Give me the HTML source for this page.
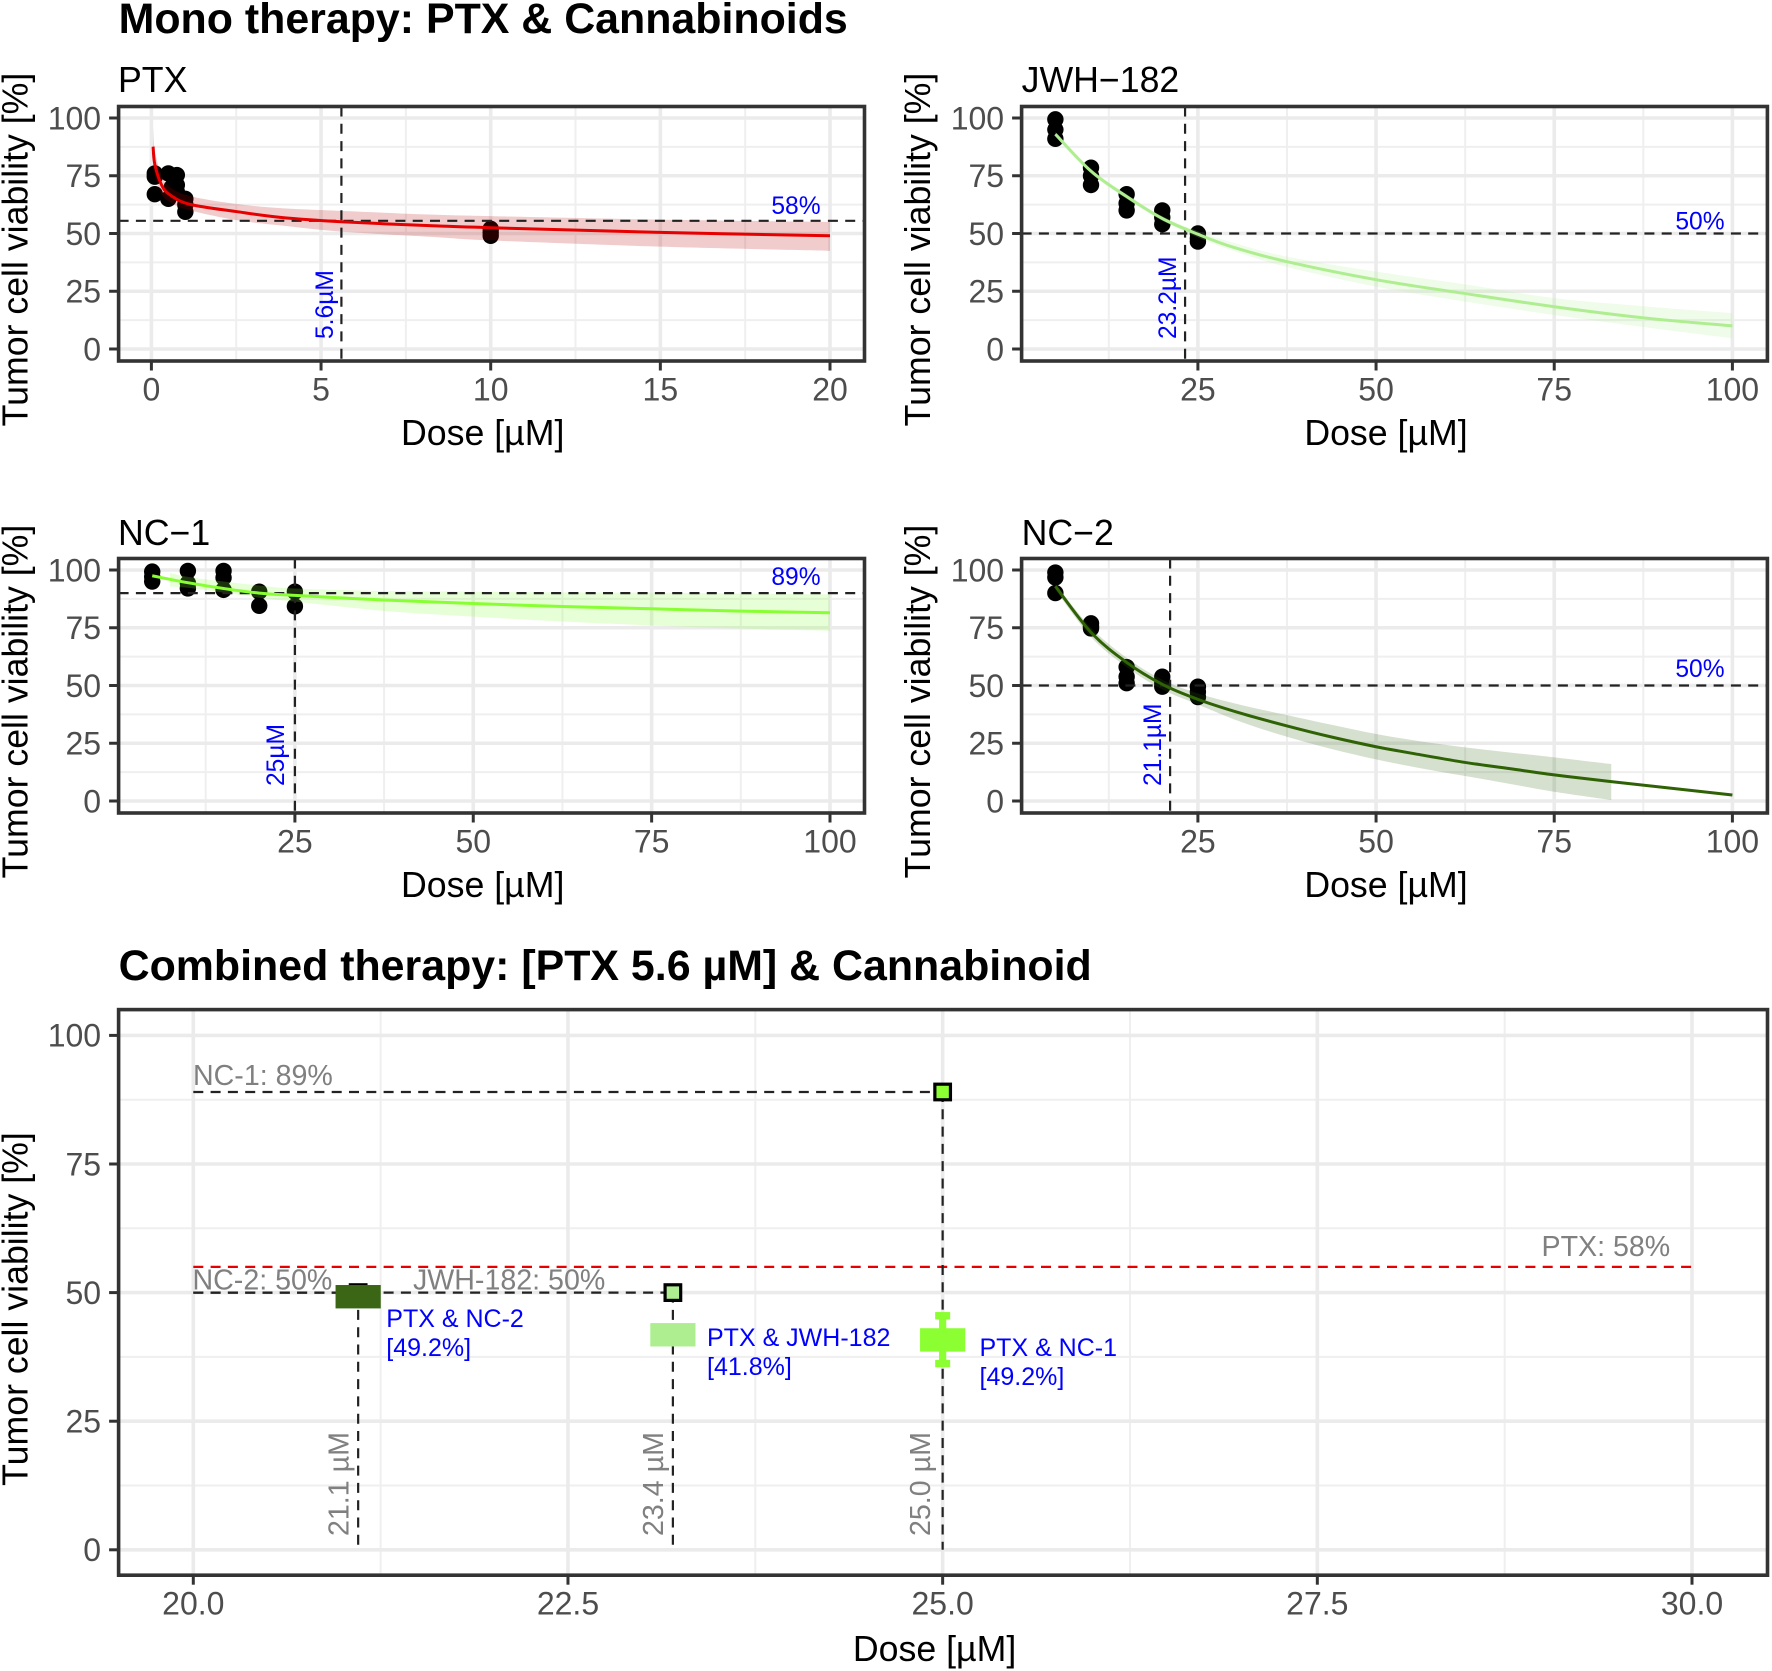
<!DOCTYPE html>
<html lang="en">
<head>
<meta charset="utf-8">
<title>Mono and combined therapy dose response</title>
<style>
html,body{margin:0;padding:0;background:#fff;width:1772px;height:1671px;overflow:hidden}
svg{display:block}
text{font-family:"Liberation Sans",sans-serif}
.ttl{font-size:35.7px;fill:#000}
.main{font-weight:bold;fill:#000}
.blue{font-size:24.6px;fill:#0000ff}
.combo{font-size:25px;fill:#0000ff}
.gray{font-size:28.6px;fill:#808080}
</style>
</head>
<body>
<svg id="chart" xmlns="http://www.w3.org/2000/svg" width="1772" height="1671" viewBox="0 0 1772 1671">
  <rect x="0" y="0" width="1772" height="1671" fill="#fff"/>
  <g id="layer-marks"></g>

  <text class="main" x="118.6" y="33" font-size="42.9">Mono therapy: PTX &amp; Cannabinoids</text>
  <text class="main" x="118.6" y="980" font-size="42.9">Combined therapy: [PTX 5.6 µM] &amp; Cannabinoid</text>

  <text class="ttl" x="118" y="92">PTX</text>
  <text class="ttl" x="1021.6" y="92">JWH−182</text>
  <text class="ttl" x="118" y="545">NC−1</text>
  <text class="ttl" x="1021.6" y="545">NC−2</text>

  <text class="ttl" text-anchor="middle" transform="translate(27.5,249.5) rotate(-90)">Tumor cell viability [%]</text>
  <text class="ttl" text-anchor="middle" transform="translate(930,249.5) rotate(-90)">Tumor cell viability [%]</text>
  <text class="ttl" text-anchor="middle" transform="translate(27.5,701.5) rotate(-90)">Tumor cell viability [%]</text>
  <text class="ttl" text-anchor="middle" transform="translate(930,701.5) rotate(-90)">Tumor cell viability [%]</text>
  <text class="ttl" text-anchor="middle" transform="translate(27.5,1309) rotate(-90)">Tumor cell viability [%]</text>

  <text class="ttl" text-anchor="middle" x="482.7" y="445">Dose [µM]</text>
  <text class="ttl" text-anchor="middle" x="1386" y="445">Dose [µM]</text>
  <text class="ttl" text-anchor="middle" x="482.7" y="897">Dose [µM]</text>
  <text class="ttl" text-anchor="middle" x="1386" y="897">Dose [µM]</text>
  <text class="ttl" text-anchor="middle" x="934.6" y="1661">Dose [µM]</text>

  <text class="blue" text-anchor="middle" x="796" y="214">58%</text>
  <text class="blue" transform="translate(333,339) rotate(-90)">5.6µM</text>
  <text class="blue" text-anchor="middle" x="1700" y="229.3">50%</text>
  <text class="blue" transform="translate(1176,339) rotate(-90)">23.2µM</text>
  <text class="blue" text-anchor="middle" x="796" y="585">89%</text>
  <text class="blue" transform="translate(284,786) rotate(-90)">25µM</text>
  <text class="blue" text-anchor="middle" x="1700" y="677">50%</text>
  <text class="blue" transform="translate(1161,786) rotate(-90)">21.1µM</text>

  <text class="gray" x="193" y="1085">NC-1: 89%</text>
  <text class="gray" x="192.5" y="1289.7">NC-2: 50%</text>
  <text class="gray" x="413" y="1289.7">JWH-182: 50%</text>
  <text class="gray" x="1541.5" y="1256">PTX: 58%</text>
  <text class="gray" transform="translate(348.5,1536) rotate(-90)">21.1 µM</text>
  <text class="gray" transform="translate(663,1536) rotate(-90)">23.4 µM</text>
  <text class="gray" transform="translate(930,1536) rotate(-90)">25.0 µM</text>

  <text class="combo" x="386.3" y="1327">PTX &amp; NC-2</text>
  <text class="combo" x="386.3" y="1356">[49.2%]</text>
  <text class="combo" x="707" y="1346">PTX &amp; JWH-182</text>
  <text class="combo" x="707" y="1375">[41.8%]</text>
  <text class="combo" x="979.5" y="1356">PTX &amp; NC-1</text>
  <text class="combo" x="979.5" y="1385">[49.2%]</text>
</svg>

<script>
/* ---------- tick labels ---------- */
const viabilityTicks = [0, 25, 50, 75, 100];
const viabilityMinorTicks = [12.5, 37.5, 62.5, 87.5];
const ptxDoseTicks = [0, 5, 10, 15, 20];
const ptxDoseMinorTicks = [2.5, 7.5, 12.5, 17.5];
const cannabinoidDoseTicks = [25, 50, 75, 100];
const cannabinoidDoseMinorTicks = [12.5, 37.5, 62.5, 87.5];
const comboDoseTicks = [20, 22.5, 25, 27.5, 30];
const comboDoseTickLabels = ['20.0', '22.5', '25.0', '27.5', '30.0'];
const comboDoseMinorTicks = [21.25, 23.75, 26.25, 28.75];

/* ---------- PTX ---------- */
const ptxPointDoses = [0.1, 0.1, 0.1, 0.5, 0.5, 0.6, 0.75, 0.75, 0.75, 1, 1, 1, 10, 10, 10];
const ptxPointViability = [76, 74.6, 67, 76, 65, 70, 75.3, 71, 68, 65, 62.5, 59.4, 52, 50.5, 49];
const ptxCurveDoses = [0.05, 0.1, 0.3, 0.55, 1.14, 2.5, 3.8, 5.6, 8.2, 10, 15, 20];
const ptxCurveViability = [87.6, 80, 71, 66.7, 62.6, 59.5, 57, 55.1, 53.4, 52.5, 50.5, 49];
const ptxBandDoses = [0.05, 0.1, 0.3, 0.55, 1.14, 2.5, 3.8, 5.6, 8.2, 10, 15, 20];
const ptxBandUpper = [96, 86, 75, 70, 66.2, 62.8, 61, 59.8, 58.2, 57.5, 56, 55];
const ptxBandLower = [80, 75, 67, 63.5, 60, 55.8, 53.5, 50.8, 48.6, 47, 44.3, 42.5];
const ptxReference = [5.6, 55.5];

/* ---------- JWH-182 ---------- */
const jwhPointDoses = [5, 5, 5, 10, 10, 10, 15, 15, 15, 20, 20, 20, 25, 25, 25];
const jwhPointViability = [99.4, 95, 91, 78.5, 75, 71, 67, 63, 60, 60, 57, 54, 50, 48, 46.5];
const jwhCurveDoses = [5, 10, 15, 20, 25, 30, 37.5, 50, 62.5, 75, 87.5, 100];
const jwhCurveViability = [93, 77, 66, 56.5, 49.7, 44, 37.8, 30, 24, 18.3, 13.5, 10];
const jwhBandDoses = [5, 10, 15, 20, 25, 30, 37.5, 50, 62.5, 75, 87.5, 100];
const jwhBandUpper = [94, 78, 67, 57.5, 51, 46, 40, 33.5, 28, 22, 18.5, 15.5];
const jwhBandLower = [92, 76, 65, 55.5, 48.4, 42.5, 35.5, 27, 20.5, 14.7, 9.5, 4.6];
const jwhReference = [23.2, 50];

/* ---------- NC-1 ---------- */
const nc1PointDoses = [5, 5, 5, 10, 10, 10, 15, 15, 15, 20, 20, 25, 25];
const nc1PointViability = [99.3, 97, 95, 99.6, 94.3, 92, 99.6, 96.7, 91.4, 90.6, 84.5, 90.6, 84.3];
const nc1CurveDoses = [5, 10, 15, 20, 25, 37.5, 50, 62.5, 75, 87.5, 100];
const nc1CurveViability = [97.5, 94.5, 92, 90, 89, 87, 85.5, 84.2, 83.2, 82.2, 81.5];
const nc1BandDoses = [7.5, 10, 15, 20, 25, 37.5, 50, 62.5, 75, 87.5, 100];
const nc1BandUpper = [98.7, 97, 95, 93.3, 92, 90.9, 90.6, 90.3, 90.2, 89.8, 89.5];
const nc1BandLower = [92.8, 92.3, 90.2, 88, 86.3, 82.3, 79.8, 77.7, 76, 74.6, 73.7];
const nc1Reference = [25, 90];

/* ---------- NC-2 ---------- */
const nc2PointDoses = [5, 5, 5, 10, 10, 10, 15, 15, 15, 20, 20, 20, 25, 25, 25];
const nc2PointViability = [98.9, 96.8, 90, 76.9, 74.7, 75.5, 58, 53.8, 51, 53.8, 51, 49.5, 49.5, 47.3, 45];
const nc2CurveDoses = [5, 10, 15, 20, 25, 31, 37.5, 43.75, 50, 56.25, 62.5, 68.75, 75, 83, 100];
const nc2CurveViability = [93, 73, 60, 50.5, 44, 38, 32.5, 27.7, 23.5, 20, 16.7, 14, 11.3, 8.4, 2.6];
const nc2BandDoses = [5, 10, 15, 20, 25, 31, 37.5, 43.75, 50, 56.25, 62.5, 68.75, 75, 83];
const nc2BandUpper = [94, 75, 62, 52.5, 46.6, 41.6, 37.2, 33, 29, 25.8, 23.2, 21, 18.9, 16];
const nc2BandLower = [91.5, 71, 58, 48.3, 41.8, 34.3, 27.8, 22.5, 18, 14.2, 10.8, 7.4, 4, 0.4];
const nc2Reference = [21.1, 50];

/* ---------- combined therapy ---------- */
const monoDoses = [21.1, 23.2, 25];
const monoViability = [50, 50, 89];
const comboDoses = [21.1, 23.2, 25];
const comboViability = [49.2, 41.8, 40.8];
const comboErrorLow = [49.2, 41.8, 36.2];
const comboErrorHigh = [49.2, 41.8, 45.5];
const ptxMonoViability = 55;

const SVGNS = 'http://www.w3.org/2000/svg';
const root = document.getElementById('layer-marks');

function mk(tag, attrs, parent) {
  const el = document.createElementNS(SVGNS, tag);
  for (const k in attrs) el.setAttribute(k, attrs[k]);
  (parent || root).appendChild(el);
  return el;
}
function scale(d0, d1, r0, r1) {
  return v => r0 + (v - d0) * (r1 - r0) / (d1 - d0);
}
function smoothPath(pts) {
  let d = 'M' + pts[0][0].toFixed(2) + ' ' + pts[0][1].toFixed(2);
  for (let i = 0; i < pts.length - 1; i++) {
    const p0 = pts[Math.max(0, i - 1)], p1 = pts[i], p2 = pts[i + 1], p3 = pts[Math.min(pts.length - 1, i + 2)];
    const c1x = p1[0] + (p2[0] - p0[0]) / 6, c1y = p1[1] + (p2[1] - p0[1]) / 6;
    const c2x = p2[0] - (p3[0] - p1[0]) / 6, c2y = p2[1] - (p3[1] - p1[1]) / 6;
    d += 'C' + c1x.toFixed(2) + ' ' + c1y.toFixed(2) + ' ' + c2x.toFixed(2) + ' ' + c2y.toFixed(2) + ' ' + p2[0].toFixed(2) + ' ' + p2[1].toFixed(2);
  }
  return d;
}

function drawAxesBackground(p) {
  const g = mk('g', {});
  
  
  p.yMinor.forEach(v => {
    const l = mk('line', {x1: p.box[0], x2: p.box[2], y1: p.y(v), y2: p.y(v), stroke: '#efefef', 'stroke-width': 2}, g);
    
    
  });
  p.xMinor.forEach(v => {
    const l = mk('line', {x1: p.x(v), x2: p.x(v), y1: p.box[1], y2: p.box[3], stroke: '#efefef', 'stroke-width': 2}, g);
    
    
  });
  p.yTicks.forEach(v => {
    const l = mk('line', {x1: p.box[0], x2: p.box[2], y1: p.y(v), y2: p.y(v), stroke: '#ebebeb', 'stroke-width': 3.6}, g);
    
    
  });
  p.xTicks.forEach(v => {
    const l = mk('line', {x1: p.x(v), x2: p.x(v), y1: p.box[1], y2: p.box[3], stroke: '#ebebeb', 'stroke-width': 3.6}, g);
    
    
  });
}

function drawAxesForeground(p) {
  const b = p.box;
  const border = mk('rect', {x: b[0], y: b[1], width: b[2] - b[0], height: b[3] - b[1], fill: 'none', stroke: '#333', 'stroke-width': 3.6});
  
  
  p.yTicks.forEach(v => {
    const t = mk('line', {x1: b[0] - 9.5, x2: b[0], y1: p.y(v), y2: p.y(v), stroke: '#333', 'stroke-width': 3});
    
    
    const lab = mk('text', {x: b[0] - 17.5, y: p.y(v) + 11.3, 'text-anchor': 'end', 'font-size': 32, fill: '#4d4d4d'});
    
    
    lab.textContent = v;
  });
  p.xTicks.forEach((v, i) => {
    const t = mk('line', {x1: p.x(v), x2: p.x(v), y1: b[3], y2: b[3] + 9.5, stroke: '#333', 'stroke-width': 3});
    
    
    const lab = mk('text', {x: p.x(v), y: b[3] + 39.5, 'text-anchor': 'middle', 'font-size': 32, fill: '#4d4d4d'});
    
    
    lab.textContent = p.xLabels ? p.xLabels[i] : v;
  });
}

function drawDoseResponse(p) {
  drawAxesBackground(p);
  const b = p.box;
  p.pointDoses.forEach((d, i) => {
    const c = mk('circle', {cx: p.x(d), cy: p.y(p.pointViability[i]), r: 8.2, fill: '#000'});
    
    
  });
  const up = p.bandDoses.map((d, i) => [p.x(d), p.y(p.bandUpper[i])]);
  const lo = p.bandDoses.map((d, i) => [p.x(d), p.y(p.bandLower[i])]).reverse();
  const ribbonPath = smoothPath(up) + 'L' + lo[0][0].toFixed(2) + ' ' + lo[0][1].toFixed(2) + smoothPath(lo).replace(/^M[^C]*/, '') + 'Z';
  const ribbon = mk('path', {d: ribbonPath, fill: p.bandColor || p.color, 'fill-opacity': 0.2, stroke: 'none'});
  
  
  const rv = mk('line', {x1: p.x(p.reference[0]), x2: p.x(p.reference[0]), y1: b[1], y2: b[3], stroke: '#222', 'stroke-width': 2.2, 'stroke-dasharray': '10 7.3'});
  
  
  const rh = mk('line', {x1: b[0], x2: b[2], y1: p.y(p.reference[1]), y2: p.y(p.reference[1]), stroke: '#222', 'stroke-width': 2.2, 'stroke-dasharray': '10 7.3'});
  
  
  const curve = mk('path', {d: smoothPath(p.curveDoses.map((d, i) => [p.x(d), p.y(p.curveViability[i])])), fill: 'none', stroke: p.color, 'stroke-width': 3});
  
  
  drawAxesForeground(p);
}

const topY = scale(0, 100, 349, 118);
const lowY = scale(0, 100, 801, 570);
const leftCannabinoidX = scale(25, 100, 294.9, 830);
const rightCannabinoidX = scale(25, 100, 1197.9, 1732.4);

drawDoseResponse({id: 'ptx', box: [118.6, 106.5, 864.5, 361], x: scale(0, 20, 151.4, 830), y: topY,
  xTicks: ptxDoseTicks, xMinor: ptxDoseMinorTicks, yTicks: viabilityTicks, yMinor: viabilityMinorTicks,
  pointDoses: ptxPointDoses, pointViability: ptxPointViability, curveDoses: ptxCurveDoses, curveViability: ptxCurveViability,
  bandDoses: ptxBandDoses, bandUpper: ptxBandUpper, bandLower: ptxBandLower, reference: ptxReference, color: '#e60000', bandColor: '#b40000'});

drawDoseResponse({id: 'jwh', box: [1021.6, 106.5, 1767.4, 361], x: rightCannabinoidX, y: topY,
  xTicks: cannabinoidDoseTicks, xMinor: cannabinoidDoseMinorTicks, yTicks: viabilityTicks, yMinor: viabilityMinorTicks,
  pointDoses: jwhPointDoses, pointViability: jwhPointViability, curveDoses: jwhCurveDoses, curveViability: jwhCurveViability,
  bandDoses: jwhBandDoses, bandUpper: jwhBandUpper, bandLower: jwhBandLower, reference: jwhReference, color: '#aeee90'});

drawDoseResponse({id: 'nc1', box: [118.6, 558.5, 864.5, 813], x: leftCannabinoidX, y: lowY,
  xTicks: cannabinoidDoseTicks, xMinor: cannabinoidDoseMinorTicks, yTicks: viabilityTicks, yMinor: viabilityMinorTicks,
  pointDoses: nc1PointDoses, pointViability: nc1PointViability, curveDoses: nc1CurveDoses, curveViability: nc1CurveViability,
  bandDoses: nc1BandDoses, bandUpper: nc1BandUpper, bandLower: nc1BandLower, reference: nc1Reference, color: '#88ff33'});

drawDoseResponse({id: 'nc2', box: [1021.6, 558.5, 1767.4, 813], x: rightCannabinoidX, y: lowY,
  xTicks: cannabinoidDoseTicks, xMinor: cannabinoidDoseMinorTicks, yTicks: viabilityTicks, yMinor: viabilityMinorTicks,
  pointDoses: nc2PointDoses, pointViability: nc2PointViability, curveDoses: nc2CurveDoses, curveViability: nc2CurveViability,
  bandDoses: nc2BandDoses, bandUpper: nc2BandUpper, bandLower: nc2BandLower, reference: nc2Reference, color: '#2f6205', bandColor: '#2f6510'});

/* combined panel */
(function () {
  const p = {id: 'combined', box: [118.6, 1009.6, 1767.5, 1575.2], x: scale(20, 30, 193.3, 1692), y: scale(0, 100, 1549.8, 1035.4),
    xTicks: comboDoseTicks, xLabels: comboDoseTickLabels, xMinor: comboDoseMinorTicks, yTicks: viabilityTicks, yMinor: viabilityMinorTicks};
  const comboColors = ['#3a6616', '#aeee90', '#8cff33'];
  drawAxesBackground(p);
  const dash = {stroke: '#222', 'stroke-width': 2.2, 'stroke-dasharray': '10 7.3'};

  const red = mk('line', {x1: p.x(20), x2: p.x(30), y1: p.y(ptxMonoViability), y2: p.y(ptxMonoViability), stroke: '#e60000', 'stroke-width': 2.2, 'stroke-dasharray': '10 7.3'});
  
  

  monoDoses.forEach((d, i) => {
    const h = mk('line', Object.assign({x1: p.x(20), x2: p.x(d), y1: p.y(monoViability[i]), y2: p.y(monoViability[i])}, dash));
    
    
    const v = mk('line', Object.assign({x1: p.x(d), x2: p.x(d), y1: p.y(monoViability[i]), y2: p.y(0)}, dash));
    
    
    const s = mk('rect', {x: p.x(d) - 7.8, y: p.y(monoViability[i]) - 7.8, width: 15.6, height: 15.6, fill: comboColors[i], stroke: '#000', 'stroke-width': 3.2});
    
    
  });

  comboDoses.forEach((d, i) => {
    const cx = p.x(d), c = comboColors[i];
    if (comboErrorHigh[i] > comboErrorLow[i]) {
      const yh = p.y(comboErrorHigh[i]), yl = p.y(comboErrorLow[i]);
      const stem = mk('rect', {x: cx - 3.6, y: yh, width: 7.2, height: yl - yh, fill: c});
      
      
      const capH = mk('rect', {x: cx - 7.5, y: yh - 3.7, width: 15, height: 7.4, fill: c});
      
      
      const capL = mk('rect', {x: cx - 7.5, y: yl - 3.7, width: 15, height: 7.4, fill: c});
      
      
    }
    const box = mk('rect', {x: cx - 22.6, y: p.y(comboViability[i]) - 11.7, width: 45.2, height: 23.4, fill: c});
    
    
  });
  drawAxesForeground(p);
})();
</script>
</body>
</html>
